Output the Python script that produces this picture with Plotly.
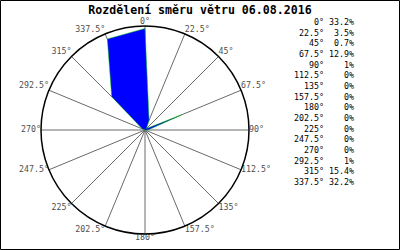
import plotly.graph_objects as go

title = "Rozdělení směru větru 06.08.2016"
directions = [0, 22.5, 45, 67.5, 90, 112.5, 135, 157.5, 180, 202.5, 225, 247.5, 270, 292.5, 315, 337.5]
dir_labels = ["0°", "22.5°", "45°", "67.5°", "90°", "112.5°", "135°", "157.5°", "180°",
              "202.5°", "225°", "247.5°", "270°", "292.5°", "315°", "337.5°"]
shares = [33.2, 3.5, 0.7, 12.9, 1, 0, 0, 0, 0, 0, 0, 0, 0, 1, 15.4, 32.2]
r_max = 34

W, H = 400, 250
MONO = "DejaVu Sans Mono"
fig = go.Figure()
fig.add_trace(go.Scatterpolar(
    r=shares + shares[:1], theta=directions + directions[:1],
    mode="lines", fill="toself", fillcolor="#0000ff",
    line=dict(color="#00d000", width=0.5), hoverinfo="skip", showlegend=False))


def label_pos(a):
    if a == 0:
        return "top center"
    if a == 180:
        return "bottom center"
    side = "right" if a < 180 else "left"
    s = a if a < 180 else 360 - a
    if s < 80:
        v = "top"
    elif s <= 120:
        v = "middle"
    else:
        v = "bottom"
    return f"{v} {side}"


fig.add_trace(go.Scatterpolar(
    r=[r_max] * len(directions), theta=directions, mode="text", text=dir_labels,
    textposition=[label_pos(a) for a in directions], cliponaxis=False,
    textfont=dict(family=MONO, size=8.3, color="#505050"),
    hoverinfo="skip", showlegend=False))

cx, cy, R = 145, 130, 104
fig.update_layout(
    width=W, height=H, margin=dict(l=0, r=0, t=0, b=0),
    paper_bgcolor="white", plot_bgcolor="white",
    title=dict(text="<b>" + title + "</b>", x=0.5, xanchor="center", y=1 - 10 / H, yanchor="middle",
               font=dict(family=MONO, size=11.6, color="black")),
    polar=dict(
        domain=dict(x=[(cx - R) / W, (cx + R) / W], y=[(H - cy - R) / H, (H - cy + R) / H]),
        bgcolor="white",
        radialaxis=dict(range=[0, r_max], visible=False, showgrid=False),
        angularaxis=dict(direction="clockwise", rotation=90, tickmode="array",
                         tickvals=directions, showticklabels=False,
                         showline=True, linecolor="black", linewidth=1.5,
                         showgrid=True, gridcolor="#6a6a6a", gridwidth=1, ticks=""),
    ),
)

for i, (lab, v) in enumerate(zip(dir_labels, shares)):
    y = 22 + i * 10.67
    fig.add_annotation(x=326 / W, y=1 - y / H, xref="paper", yref="paper", text=lab,
                       showarrow=False, xanchor="right", yanchor="middle",
                       font=dict(family=MONO, size=8.3, color="black"))
    fig.add_annotation(x=356 / W, y=1 - y / H, xref="paper", yref="paper", text=f"{v:g}%",
                       showarrow=False, xanchor="right", yanchor="middle",
                       font=dict(family=MONO, size=8.3, color="black"))

fig.add_shape(type="rect", xref="paper", yref="paper", x0=0.5 / W, x1=1 - 0.5 / W,
              y0=0.5 / H, y1=1 - 0.5 / H, line=dict(color="black", width=1))

fig.write_html("out.html")
